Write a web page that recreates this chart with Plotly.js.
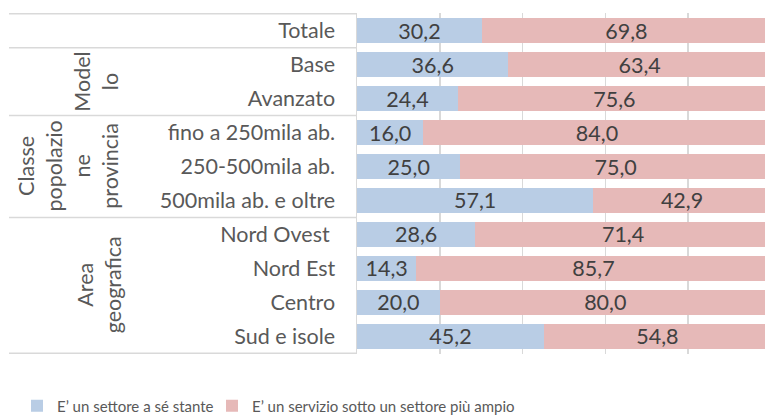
<!DOCTYPE html>
<html><head><meta charset="utf-8">
<script src="https://cdn.plot.ly/plotly-3.0.1.min.js"></script>
<style>html,body{margin:0;padding:0;background:#fff}#chart{width:765px;height:416px}</style>
</head><body><div id="chart"></div>
<script>
const categories = ["Totale","Base","Avanzato","fino a 250mila ab.","250-500mila ab.","500mila ab. e oltre","Nord Ovest ","Nord Est","Centro","Sud e isole"];
const seriesNames = ["E’ un settore a sé stante","E’ un servizio sotto un settore più ampio"];
const settore = [30.2,36.6,24.4,16.0,25.0,57.1,28.6,14.3,20.0,45.2];
const servizio = [69.8,63.4,75.6,84.0,75.0,42.9,71.4,85.7,80.0,54.8];
const groupLabels = ["Model<br>lo","Classe<br>popolazio<br>ne<br>provincia","Area<br>geografica"];
const groupRanges = [[1,2],[3,5],[6,9]];

const W=765,H=416,L=357,R=0,T=13,B=62;
const pw=W-L-R, ph=H-T-B;
const px2paper = p => (p-L)/pw;
const py2paper = p => (H-B-p)/ph;
const font = "Lato, 'Liberation Sans', sans-serif";
const FS = 21.5;

const traces = [
  {type:'bar',orientation:'h',name:seriesNames[0],y:categories,x:settore,legend:'legend',
   marker:{color:'#b9cde5'},texttemplate:'%{x:.1f}',textposition:'inside',insidetextanchor:'middle',
   constraintext:'none',textfont:{family:font,size:FS,color:'#404040'},hoverinfo:'skip'},
  {type:'bar',orientation:'h',name:seriesNames[1],y:categories,x:servizio,legend:'legend2',
   marker:{color:'#e6b9b8'},texttemplate:'%{x:.1f}',textposition:'inside',insidetextanchor:'middle',
   constraintext:'none',textfont:{family:font,size:FS,color:'#404040'},hoverinfo:'skip'}
];

const lineCol = '#d9d9d9';
const shapes = [];
const bounds = [-0.5,0.5,2.5,5.5,9.5];
bounds.forEach(b=>shapes.push({type:'line',xref:'paper',yref:'y',x0:px2paper(9),x1:0,y0:b,y1:b,line:{color:lineCol,width:1.5}}));

const annotations = groupLabels.map((t,i)=>{
  const xs=[96,68,99];
  return {xref:'paper',yref:'y',x:px2paper(xs[i]),y:(groupRanges[i][0]+groupRanges[i][1])/2,text:t,textangle:-90,
    showarrow:false,font:{family:font,size:FS,color:'#595959'},xanchor:'center',yanchor:'middle'};
});

const legFont = {family:font,size:15,color:'#595959'};
const layout = {
  width:W,height:H,margin:{l:L,r:R,t:T,b:B,autoexpand:false},barmode:'stack',bargap:0.26,
  separators:',.',paper_bgcolor:'#fff',plot_bgcolor:'#fff',
  font:{family:font,size:FS,color:'#595959'},
  xaxis:{range:[0,98.6],dtick:20,tick0:0,showgrid:true,gridcolor:lineCol,gridwidth:1.5,
         showticklabels:false,zeroline:false,showline:false,fixedrange:true},
  yaxis:{categoryorder:'array',categoryarray:categories,autorange:'reversed',
         showline:true,linecolor:lineCol,linewidth:1.5,ticks:'',ticklabelstandoff:16,
         tickfont:{family:font,size:FS,color:'#595959'},showgrid:false},
  showlegend:true,
  legend:{orientation:'h',x:px2paper(17),xanchor:'left',y:py2paper(406),yanchor:'middle',
          font:legFont,itemclick:false,bgcolor:'rgba(0,0,0,0)'},
  legend2:{orientation:'h',x:px2paper(212),xanchor:'left',y:py2paper(406),yanchor:'middle',
          font:legFont,itemclick:false,bgcolor:'rgba(0,0,0,0)'},
  shapes:shapes,annotations:annotations
};
Plotly.newPlot('chart',traces,layout,{displayModeBar:false,staticPlot:true});
</script></body></html>
